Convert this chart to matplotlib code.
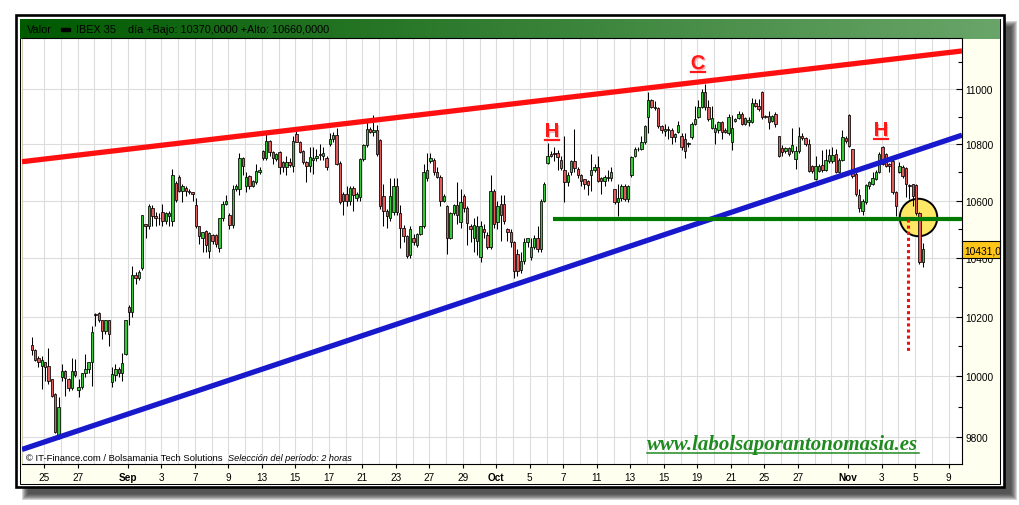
import numpy as np
import matplotlib
matplotlib.use("Agg")
import matplotlib.pyplot as plt
from matplotlib.patches import Rectangle
from matplotlib.lines import Line2D
from matplotlib.ticker import FixedLocator, FixedFormatter, NullFormatter
import matplotlib.patheffects as pe

plt.rcParams['font.family'] = 'Liberation Sans'

# IBEX 35, velas de 2 horas
opens = [10104, 10087, 10060, 10033, 10047, 10033, 9990, 9940, 9800, 9997,
         10017, 9990, 9960, 10017, 9953, 9963, 10010, 10023, 10047, 10210,
         10213, 10190, 10150, 10187, 9980, 10003, 10023, 10010, 10073, 10233,
         10217, 10343, 10330, 10365, 10520, 10510, 10575, 10545, 10540, 10560,
         10530, 10545, 10530, 10663, 10684, 10635, 10645, 10635, 10630, 10585,
         10510, 10470, 10494, 10426, 10480, 10480, 10436, 10538, 10590, 10550,
         10514, 10642, 10642, 10750, 10652, 10687, 10652, 10666, 10700, 10776,
         10751, 10812, 10772, 10748, 10772, 10736, 10718, 10736, 10722, 10838,
         10808, 10776, 10736, 10722, 10745, 10751, 10766, 10760, 10751, 10801,
         10819, 10833, 10733, 10625, 10625, 10600, 10645, 10610, 10612, 10747,
         10797, 10855, 10845, 10850, 10815, 10617, 10565, 10540, 10560, 10650,
         10555, 10505, 10475, 10410, 10470, 10445, 10485, 10510, 10680, 10740,
         10745, 10700, 10685, 10600, 10580, 10470, 10555, 10585, 10525, 10615,
         10575, 10510, 10470, 10460, 10405, 10500, 10480, 10440, 10635, 10525,
         10590, 10590, 10500, 10490, 10455, 10415, 10360, 10390, 10455, 10405,
         10440, 10470, 10430, 10600, 10735, 10765, 10770, 10770, 10745, 10710,
         10665, 10700, 10740, 10712, 10690, 10675, 10670, 10690, 10710, 10720,
         10680, 10670, 10685, 10680, 10640, 10597, 10610, 10650, 10605, 10690,
         10760, 10785, 10785, 10810, 10900, 10960, 10935, 10930, 10865, 10848,
         10855, 10850, 10825, 10845, 10830, 10820, 10800, 10825, 10875, 10900,
         10935, 10990, 10935, 10860, 10845, 10850, 10880, 10850, 10840, 10810,
         10885, 10895, 10910, 10875, 10882, 10882, 10950, 10938, 10989, 10902,
         10902, 10885, 10909, 10830, 10786, 10776, 10786, 10776, 10747, 10776,
         10830, 10822, 10801, 10722, 10676, 10704, 10725, 10708, 10740, 10740,
         10765, 10701, 10744, 10822, 10906, 10783, 10694, 10620, 10565, 10597,
         10652, 10660, 10676, 10701, 10790, 10765, 10729, 10740, 10631, 10701,
         10718, 10715, 10655, 10658, 10655, 10555, 10387]
highs = [10130, 10090, 10067, 10067, 10047, 10093, 9990, 9945, 9930, 10040,
         10020, 9995, 10060, 10057, 9990, 10010, 10073, 10047, 10167, 10213,
         10217, 10190, 10190, 10190, 10030, 10040, 10030, 10077, 10190, 10240,
         10373, 10353, 10360, 10550, 10520, 10590, 10585, 10560, 10555, 10590,
         10560, 10565, 10712, 10670, 10690, 10660, 10650, 10640, 10632, 10610,
         10512, 10490, 10496, 10490, 10485, 10485, 10540, 10600, 10620, 10555,
         10655, 10660, 10770, 10755, 10700, 10690, 10672, 10730, 10720, 10780,
         10840, 10815, 10775, 10770, 10775, 10740, 10760, 10750, 10830, 10860,
         10812, 10780, 10740, 10790, 10790, 10785, 10800, 10790, 10760, 10840,
         10845, 10860, 10740, 10630, 10650, 10650, 10650, 10630, 10750, 10800,
         10880, 10862, 10905, 10870, 10820, 10660, 10570, 10680, 10680, 10680,
         10585, 10515, 10480, 10510, 10485, 10488, 10512, 10730, 10770, 10770,
         10752, 10720, 10690, 10625, 10585, 10560, 10590, 10665, 10640, 10625,
         10580, 10520, 10540, 10545, 10530, 10520, 10490, 10690, 10640, 10600,
         10620, 10620, 10505, 10500, 10460, 10430, 10420, 10470, 10470, 10470,
         10480, 10510, 10605, 10665, 10805, 10775, 10790, 10780, 10760, 10830,
         10700, 10745, 10855, 10720, 10695, 10675, 10672, 10765, 10730, 10760,
         10685, 10690, 10710, 10720, 10640, 10660, 10660, 10660, 10655, 10760,
         10790, 10790, 10830, 10870, 10990, 10965, 10958, 10935, 10870, 10875,
         10865, 10860, 10840, 10885, 10840, 10840, 10810, 10880, 10940, 10960,
         11000, 11018, 10960, 10940, 10875, 10885, 10885, 10860, 10910, 10905,
         10895, 10920, 10917, 10898, 10900, 10967, 10964, 10964, 10993, 10905,
         10920, 10905, 10916, 10830, 10797, 10790, 10790, 10860, 10793, 10862,
         10840, 10825, 10819, 10725, 10758, 10730, 10780, 10783, 10783, 10790,
         10783, 10750, 10851, 10830, 10910, 10783, 10711, 10640, 10605, 10660,
         10670, 10700, 10710, 10772, 10795, 10770, 10735, 10758, 10635, 10736,
         10725, 10720, 10660, 10660, 10660, 10560, 10452]
lows = [10070, 10050, 10030, 9957, 9985, 9973, 9930, 9812, 9793, 9983,
        9935, 9950, 9953, 9997, 9930, 9957, 9997, 10010, 9967, 10167,
        10180, 10123, 10140, 10100, 9963, 9983, 9997, 9983, 10070, 10173,
        10200, 10310, 10325, 10360, 10470, 10500, 10510, 10510, 10515, 10510,
        10520, 10510, 10510, 10597, 10630, 10597, 10617, 10625, 10600, 10503,
        10450, 10420, 10420, 10400, 10450, 10440, 10420, 10530, 10585, 10500,
        10505, 10635, 10620, 10690, 10630, 10640, 10648, 10660, 10695, 10745,
        10745, 10760, 10730, 10740, 10694, 10700, 10690, 10720, 10701, 10808,
        10770, 10730, 10666, 10700, 10694, 10740, 10745, 10745, 10710, 10795,
        10810, 10725, 10590, 10550, 10580, 10585, 10565, 10600, 10600, 10740,
        10790, 10840, 10830, 10760, 10570, 10510, 10505, 10530, 10550, 10550,
        10435, 10455, 10400, 10400, 10445, 10440, 10480, 10505, 10670, 10735,
        10690, 10680, 10580, 10595, 10415, 10465, 10550, 10520, 10505, 10560,
        10445, 10455, 10420, 10410, 10385, 10470, 10430, 10430, 10505, 10500,
        10460, 10520, 10460, 10440, 10330, 10340, 10350, 10380, 10440, 10395,
        10430, 10420, 10420, 10595, 10730, 10755, 10740, 10710, 10710, 10597,
        10650, 10690, 10700, 10680, 10650, 10640, 10620, 10635, 10700, 10665,
        10625, 10650, 10670, 10670, 10590, 10545, 10600, 10600, 10595, 10685,
        10755, 10775, 10780, 10800, 10840, 10930, 10925, 10860, 10840, 10830,
        10820, 10800, 10810, 10840, 10780, 10750, 10790, 10820, 10870, 10895,
        10930, 10925, 10885, 10855, 10800, 10840, 10820, 10840, 10835, 10780,
        10880, 10890, 10868, 10870, 10865, 10878, 10935, 10920, 10891, 10895,
        10855, 10880, 10862, 10755, 10758, 10770, 10760, 10770, 10711, 10770,
        10815, 10795, 10700, 10698, 10672, 10700, 10700, 10705, 10735, 10735,
        10697, 10697, 10740, 10805, 10790, 10680, 10617, 10560, 10548, 10590,
        10640, 10655, 10672, 10697, 10725, 10718, 10700, 10625, 10545, 10697,
        10680, 10614, 10605, 10580, 10550, 10380, 10370]
closes = [10087, 10053, 10047, 10053, 10030, 9983, 9935, 9818, 9900, 10017,
          9993, 9960, 10017, 10003, 9963, 10010, 10023, 10047, 10147, 10205,
          10190, 10150, 10187, 10140, 10007, 10023, 10010, 10043, 10187, 10217,
          10343, 10330, 10353, 10550, 10510, 10580, 10545, 10540, 10538, 10530,
          10555, 10555, 10690, 10603, 10635, 10650, 10635, 10630, 10625, 10510,
          10477, 10490, 10446, 10487, 10460, 10450, 10538, 10590, 10600, 10514,
          10642, 10650, 10752, 10722, 10683, 10652, 10668, 10704, 10710, 10751,
          10812, 10772, 10751, 10765, 10718, 10718, 10736, 10725, 10812, 10810,
          10772, 10736, 10722, 10754, 10750, 10758, 10762, 10770, 10718, 10819,
          10833, 10730, 10597, 10600, 10600, 10645, 10620, 10622, 10747, 10797,
          10855, 10845, 10852, 10765, 10580, 10565, 10545, 10617, 10650, 10560,
          10505, 10475, 10407, 10500, 10455, 10485, 10510, 10700, 10710, 10750,
          10700, 10685, 10600, 10617, 10470, 10555, 10585, 10550, 10595, 10575,
          10523, 10500, 10515, 10510, 10510, 10490, 10440, 10635, 10520, 10580,
          10550, 10530, 10490, 10455, 10355, 10355, 10390, 10455, 10468, 10440,
          10470, 10430, 10600, 10660, 10760, 10760, 10765, 10755, 10715, 10665,
          10690, 10740, 10715, 10690, 10670, 10660, 10655, 10710, 10720, 10670,
          10670, 10685, 10680, 10700, 10597, 10610, 10650, 10605, 10650, 10755,
          10785, 10782, 10810, 10865, 10960, 10935, 10930, 10865, 10850, 10855,
          10850, 10825, 10838, 10870, 10790, 10775, 10805, 10875, 10890, 10935,
          10990, 10935, 10890, 10895, 10860, 10880, 10845, 10845, 10900, 10860,
          10893, 10910, 10875, 10895, 10886, 10950, 10938, 10927, 10898, 10898,
          10880, 10902, 10873, 10760, 10772, 10786, 10765, 10797, 10776, 10830,
          10822, 10801, 10704, 10704, 10722, 10722, 10708, 10744, 10761, 10761,
          10701, 10744, 10826, 10812, 10794, 10687, 10624, 10575, 10600, 10656,
          10665, 10680, 10701, 10765, 10729, 10722, 10722, 10631, 10580, 10722,
          10687, 10659, 10650, 10617, 10555, 10387, 10431]

# eje de fechas: una columna de rejilla por sesion
day_labels = ['25', '27', 'Sep', '3', '7', '9', '13', '15', '17', '21', '23', '27', '29',
              'Oct', '5', '7', '11', '13', '15', '19', '21', '25', '27', 'Nov', '3', '5', '9']
label_days = [0, 2, 5, 7, 9, 11, 13, 15, 17, 19, 21, 23, 25,
              27, 29, 31, 33, 35, 37, 39, 41, 43, 45, 48, 50, 52, 54]
n_days = 55
yticks = [9800, 10000, 10200, 10400, 10600, 10800, 11000]

# analisis dibujado sobre el grafico (vela, precio)
resist_x, resist_y = [-2.9, 277.7], [10738, 11140]
support_x, support_y = [-2.9, 277.7], [9760, 10833]
neck_x, neck_y = [155.6, 277.7], [10535, 10535]
target_x, target_y = [261.6, 261.6], [10535, 10081]
circle_x, circle_y = 264.6, 10544
marks = ['H', 'C', 'H']
mark_x = [155.3, 198.9, 253.5]
mark_y = [10826, 11073, 10830]

W, H = 1020, 506
fig = plt.figure(figsize=(W / 100, H / 100), dpi=100)
fig.patch.set_facecolor('white')


def box(x0, y0, x1, y1, **kw):
    r = Rectangle((x0 / W, 1 - y1 / H), (x1 - x0) / W, (y1 - y0) / H,
                  transform=fig.transFigure, **kw)
    fig.add_artist(r)
    return r


# sombra y marco doble
for i in range(7):
    box(22 + i, 22 + i, 1017 - i, 501 - i, facecolor='#2a2a2a', edgecolor='none',
        alpha=0.2, zorder=-3)
box(16.3, 16.3, 1003.7, 488, facecolor='white', edgecolor='black', linewidth=1.9, zorder=-2)
box(19.5, 19.5, 1000.5, 485, facecolor='#fffff0', edgecolor='black', linewidth=0.75, zorder=-1)

# cabecera verde
hax = fig.add_axes([20 / W, 1 - 39.5 / H, 980 / W, 19.5 / H])
g = np.linspace(0, 1, 256)[:, None]
c0 = np.array([0, 90, 0]) / 255
c1 = np.array([105, 165, 105]) / 255
hax.imshow((c0 + (c1 - c0) * g)[None, :, :], aspect='auto', extent=[20, 1000, 39.5, 20])
hax.set_xlim(20, 1000)
hax.set_ylim(39.5, 20)
hax.axis('off')
day_low = min(lows[-5:])
day_high = max(highs[-5:])
hax.text(27, 30, 'Valor', va='center', fontsize=7.8)
hax.add_patch(Rectangle((61, 28.8), 9, 3, color='black'))
hax.text(76, 30, 'IBEX 35', va='center', fontsize=7.8)
hax.text(128, 30, 'día +Bajo: %s +Alto: %s' % (('%.4f' % day_low).replace('.', ','),
                                              ('%.4f' % day_high).replace('.', ',')),
         va='center', fontsize=7.8)

# grafico principal
ax = fig.add_axes([22 / W, 1 - 465 / H, 940 / W, 426 / H])
ax.set_facecolor('white')
ax.set_yscale('log')
ax.set_ylim(9713, 11188)
ax.set_xlim(-2.9, 277.7)

o = np.array(opens, float)
hi = np.array(highs, float)
lo = np.array(lows, float)
c = np.array(closes, float)
x = np.arange(len(c))
up = c >= o
ax.vlines(x, lo, hi, color='black', linewidth=0.75, zorder=2)
ax.bar(x, np.maximum(np.abs(c - o), 2), bottom=np.minimum(o, c), width=0.72,
       color=np.where(up, '#36c836', '#e05c5c'), edgecolor='black', linewidth=0.55, zorder=2.1)

ax.plot([circle_x], [circle_y], 'o', ms=27, mfc='#ffe866', mec='black', mew=1.4, zorder=1.5)
ax.plot(resist_x, resist_y, color='#ff1010', linewidth=3.8, solid_capstyle='butt', zorder=3)
ax.plot(support_x, support_y, color='#1818cc', linewidth=3.8, solid_capstyle='butt', zorder=3)
ax.plot(neck_x, neck_y, color='#007a00', linewidth=3.0, solid_capstyle='butt', zorder=3.2)
ax.plot(target_x, target_y, color='#ee1010', linewidth=2.2, linestyle=(0, (1, 1)),
        dash_capstyle='butt', zorder=4)

mark_texts = []
for m, mx, my in zip(marks, mark_x, mark_y):
    t = ax.text(mx, my, m, ha='center', va='baseline', fontsize=14.5, fontweight='bold',
                color='#ff1a1a', zorder=6,
                path_effects=[pe.withSimplePatchShadow(offset=(1, -1), shadow_rgbFace='#ffb0b0', alpha=1)])
    mark_texts.append((t, mx, my))

day_x = 3.7 + 5 * np.arange(n_days)
ax.xaxis.set_major_locator(FixedLocator([day_x[d] for d in label_days]))
ax.xaxis.set_major_formatter(FixedFormatter(day_labels))
ax.xaxis.set_minor_locator(FixedLocator(day_x))
ax.tick_params(axis='x', which='major', direction='out', length=3, width=0.8, pad=3,
               labelsize=7.2, colors='black')
ax.tick_params(axis='x', which='minor', length=0)
for lab in ax.get_xticklabels():
    if lab.get_text().isalpha():
        lab.set_fontweight('bold')

ax.yaxis.tick_right()
ax.yaxis.set_major_locator(FixedLocator(yticks))
ax.yaxis.set_major_formatter(FixedFormatter([str(v) for v in yticks]))
ax.yaxis.set_minor_locator(FixedLocator([v for v in range(9800, 11200, 100) if v not in yticks]))
ax.yaxis.set_minor_formatter(NullFormatter())
ax.tick_params(axis='y', which='major', direction='in', length=4.5, width=0.8, pad=2.5,
               labelsize=7.3, left=False, right=True)
ax.tick_params(axis='y', which='minor', direction='in', length=3, width=0.8, left=False, right=True)

ax.grid(True, which='both', axis='x', color='#dcdcdc', linewidth=0.8)
ax.grid(True, which='major', axis='y', color='#dcdcdc', linewidth=0.8)
ax.set_axisbelow(True)
ax.spines['left'].set_color('#d0d0b0')
ax.spines['left'].set_linewidth(0.8)
for s in ['right', 'bottom', 'top']:
    ax.spines[s].set_color('black')
    ax.spines[s].set_linewidth(0.8)

# etiqueta del ultimo precio
tax = fig.add_axes([962 / W, 1 - 258.5 / H, 38.5 / W, 16.5 / H], zorder=3)
tax.set_facecolor('#ffc61a')
tax.set_xticks([])
tax.set_yticks([])
for s in tax.spines.values():
    s.set_linewidth(0.8)
tax.text(0.06, 0.45, ('%.1f' % closes[-1]).replace('.', ','), transform=tax.transAxes,
         va='center', fontsize=7.4, clip_on=True)

# textos al pie
fig.text(26 / W, 1 - 461 / H, '© IT-Finance.com / Bolsamania Tech Solutions',
         fontsize=6.8, va='baseline', zorder=5)
fig.text(228 / W, 1 - 461 / H, 'Selección del período: 2 horas', fontsize=6.6,
         style='italic', va='baseline', zorder=5)
wm = fig.text(783 / W, 1 - 450 / H, 'www.labolsaporantonomasia.es', ha='center', va='baseline',
              fontsize=15, family='Liberation Serif', weight='bold', style='italic',
              color='#1f8a1f', zorder=5)

# subrayados
fig.canvas.draw()
r = fig.canvas.get_renderer()
for t, mx, my in mark_texts:
    bb = t.get_window_extent(renderer=r)
    bx, by = ax.transData.transform((mx, my))
    yy = (by - 3) / H
    fig.add_artist(Line2D([bb.x0 / W, bb.x1 / W], [yy, yy], transform=fig.transFigure,
                          color='#ff1a1a', linewidth=1.6, zorder=6))
bb = wm.get_window_extent(renderer=r)
yy = (H - 450 - 4) / H
fig.add_artist(Line2D([bb.x0 / W, bb.x1 / W], [yy, yy], transform=fig.transFigure,
                      color='#1f8a1f', linewidth=1.1, zorder=6))

fig.savefig('out.png', dpi=100)
